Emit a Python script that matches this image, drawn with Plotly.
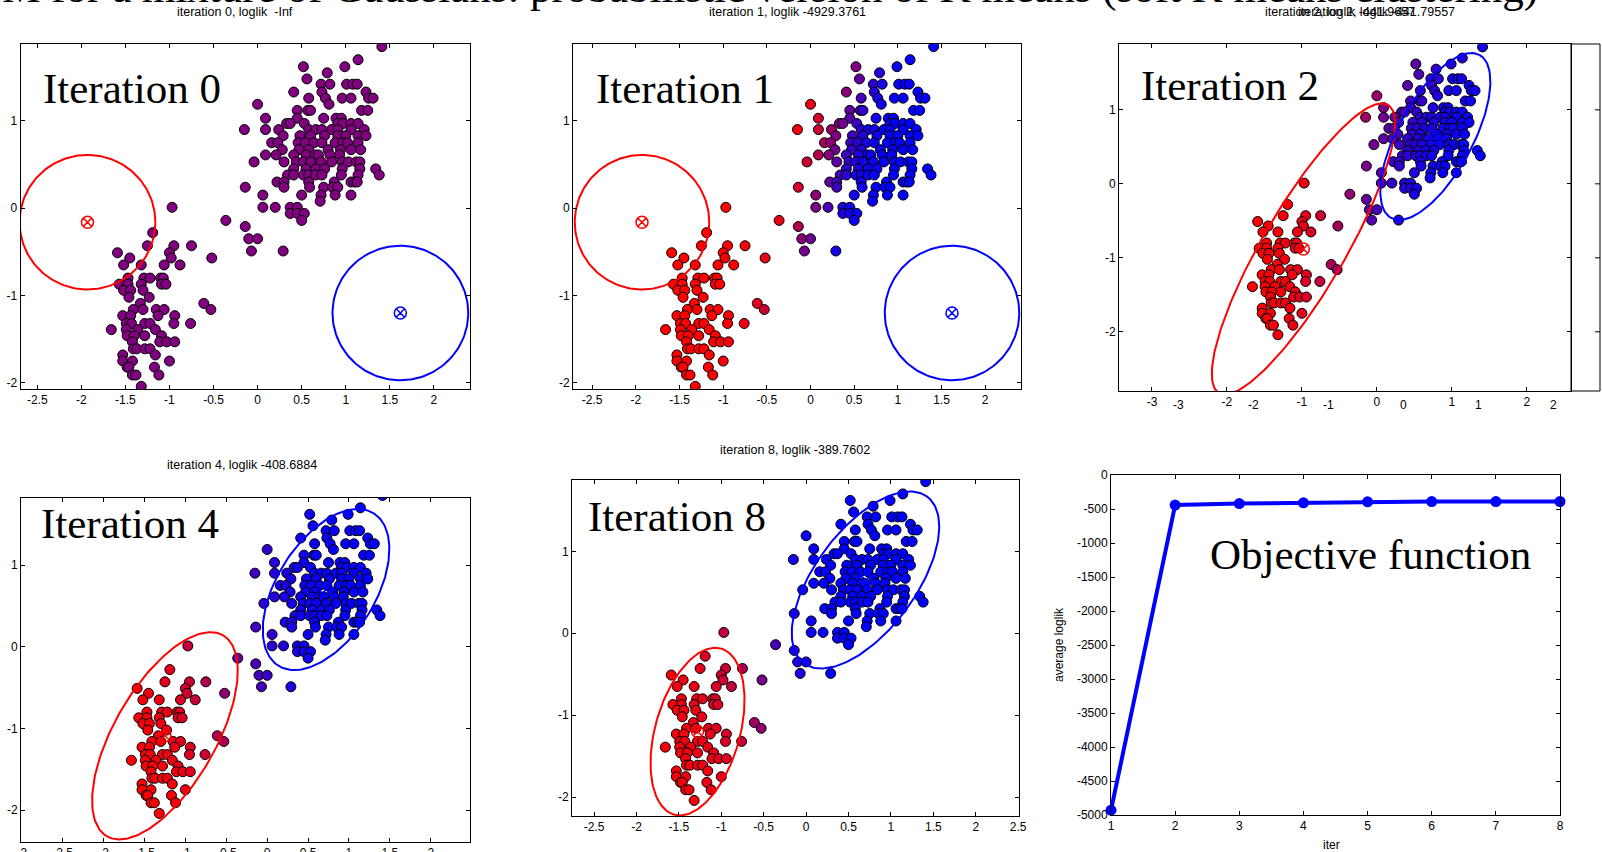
import numpy as np
import plotly.graph_objects as go

W, H = 1602, 852

# ---------------- data: standardised points ----------------
upper_x = [1.41,
           1.14,
           0.52, 0.99,
           0.79,
           0.56,
           0.72, 0.82, 1.01, 1.08, 1.13,
           0.41, 0.73, 1.23,
           0.58, 0.77, 0.96, 1.06, 1.26, 1.31,
           0.00, 0.81,
           0.45, 0.57, 0.60, 1.18, 1.25,
           0.09, 0.45, 0.75, 0.89, 0.95,
           0.33, 0.37, 0.53, 0.91, 0.97, 1.06, 1.14,
           -0.15, 0.09, 0.24, 0.58, 0.66, 0.73, 0.84, 0.91, 1.06, 1.21,
           0.29, 0.48, 0.60, 0.76, 0.91, 1.00, 1.14, 1.23,
           0.16, 0.23, 0.46, 0.54, 0.64, 0.73, 0.88, 0.97, 1.02, 1.14,
           0.28, 0.47, 0.58, 0.80, 0.94, 1.06, 1.17,
           0.09, 0.21, 0.41, 0.55, 0.65, 0.69, 0.82, 0.93,
           -0.04, 0.30, 0.44, 0.52, 0.60, 0.72, 0.84, 0.96, 1.03, 1.12, 1.16,
           0.41, 0.55, 0.66, 0.76, 0.96, 1.16, 1.34,
           0.34, 0.41, 0.52, 0.58, 0.66, 0.73, 0.95, 1.14, 1.38,
           0.22, 0.30, 0.58, 0.87, 1.06, 1.10, 1.13,
           -0.14, 0.30, 0.59, 0.75, 0.85, 0.91,
           0.06, 0.50, 0.72, 0.88, 1.06,
           0.71,
           0.06, 0.20, 0.37, 0.45,
           0.37, 0.45, 0.53,
           0.50,
           -0.36, -0.14, -0.10, 0.00, -0.07, 0.29]
upper_y = [1.85,
           1.70,
           1.62, 1.62,
           1.55,
           1.48,
           1.42, 1.42, 1.42, 1.42, 1.42,
           1.33, 1.33, 1.33,
           1.26, 1.26, 1.26, 1.26, 1.26, 1.26,
           1.19, 1.19,
           1.12, 1.12, 1.12, 1.12, 1.12,
           1.03, 1.03, 1.03, 1.03, 1.03,
           0.97, 0.97, 0.97, 0.97, 0.97, 0.97, 0.97,
           0.90, 0.90, 0.90, 0.90, 0.90, 0.90, 0.90, 0.90, 0.90, 0.90,
           0.83, 0.83, 0.83, 0.83, 0.83, 0.83, 0.83, 0.83,
           0.75, 0.75, 0.75, 0.75, 0.75, 0.75, 0.75, 0.75, 0.75, 0.75,
           0.67, 0.67, 0.67, 0.67, 0.67, 0.67, 0.67,
           0.61, 0.61, 0.61, 0.61, 0.61, 0.61, 0.61, 0.61,
           0.53, 0.53, 0.53, 0.53, 0.53, 0.53, 0.53, 0.53, 0.53, 0.53, 0.53,
           0.45, 0.45, 0.45, 0.45, 0.45, 0.45, 0.45,
           0.38, 0.38, 0.38, 0.38, 0.38, 0.38, 0.38, 0.38, 0.38,
           0.30, 0.30, 0.30, 0.30, 0.30, 0.30, 0.30,
           0.24, 0.24, 0.24, 0.24, 0.24, 0.24,
           0.15, 0.15, 0.15, 0.15, 0.15,
           0.08,
           0.01, 0.01, 0.01, 0.01,
           -0.06, -0.06, -0.06,
           -0.14,
           -0.14, -0.21, -0.35, -0.35, -0.49, -0.49]

lower_x = [-0.97,
           -1.19,
           -1.25, -0.95, -0.75,
           -1.59, -1.00,
           -1.45, -0.98, -0.52,
           -1.52, -1.32, -1.06, -0.88,
           -1.47, -1.29, -1.22, -1.10, -1.07,
           -1.57, -1.47, -1.32, -1.09, -1.04,
           -1.52, -1.44, -1.30,
           -1.46, -1.23,
           -0.61, -1.33,
           -0.53, -1.41, -1.30, -1.15, -1.06,
           -1.53, -1.44, -1.13, -0.94,
           -1.49, -1.43, -1.28, -1.22, -0.95, -0.76,
           -1.66, -1.49, -1.36, -1.16,
           -1.48, -1.40, -1.28, -1.09,
           -1.42, -1.11, -1.03, -0.94,
           -1.41, -1.37, -1.28, -1.22,
           -1.53, -1.16,
           -1.53, -1.42, -1.00,
           -1.48, -1.46, -1.17,
           -1.42, -1.38, -1.12,
           -1.32]
lower_y = [0.01,
           -0.28,
           -0.43, -0.43, -0.43,
           -0.51, -0.51,
           -0.57, -0.57, -0.57,
           -0.65, -0.65, -0.65, -0.65,
           -0.80, -0.80, -0.80, -0.80, -0.80,
           -0.87, -0.87, -0.87, -0.87, -0.87,
           -0.94, -0.94, -0.94,
           -1.02, -1.02,
           -1.09, -1.09,
           -1.16, -1.16, -1.16, -1.16, -1.16,
           -1.23, -1.23, -1.23, -1.23,
           -1.32, -1.32, -1.32, -1.32, -1.32, -1.32,
           -1.39, -1.39, -1.39, -1.39,
           -1.46, -1.46, -1.46, -1.46,
           -1.53, -1.53, -1.53, -1.53,
           -1.61, -1.61, -1.61, -1.61,
           -1.68, -1.68,
           -1.75, -1.75, -1.75,
           -1.82, -1.82, -1.82,
           -1.91, -1.91, -1.91,
           -2.04]

# Gaussian components shown in each panel: (cx, cy, semi-axis a, semi-axis b, angle deg, weight)
red_params = {
    "it0": (-1.93, -0.16, 0.77, 0.77, 0, 0.5),
    "it1": (-1.93, -0.16, 0.77, 0.77, 0, 0.5),
    "it2": (-0.98, -0.88, 2.25, 0.55, 60, 0.45),
    "it4": (-1.25, -1.09, 1.42, 0.62, 60, 0.36),
    "it8": (-1.28, -1.20, 1.05, 0.50, 75, 0.36),
}
blue_params = {
    "it0": (1.62, -1.20, 0.77, 0.77, 0, 0.5),
    "it1": (1.62, -1.20, 0.77, 0.77, 0, 0.5),
    "it2": (0.78, 0.64, 1.25, 0.50, 62, 0.55),
    "it4": (0.72, 0.70, 1.10, 0.60, 58, 0.64),
    "it8": (0.70, 0.65, 1.25, 0.60, 55, 0.64),
}

titles = {
    "it0": "iteration 0, loglik  -Inf",
    "it1": "iteration 1, loglik -4929.3761",
    "it4": "iteration 4, loglik -408.6884",
    "it8": "iteration 8, loglik -389.7602",
}
title_it2_a = "iteration 2, loglik -441.9657"
title_it2_b = "iteration 2, loglik -441.79557"

iters = [1, 2, 3, 4, 5, 6, 7, 8]
avg_loglik = [-4929.3761, -441.9657, -420.5, -408.6884, -395.2, -391.5, -390.3, -389.7602]

xt_a = [-2.5, -2, -1.5, -1, -0.5, 0, 0.5, 1, 1.5, 2]
xt_it2 = [-3, -2, -1, 0, 1, 2]
xt_it4 = [-3, -2.5, -2, -1.5, -1, -0.5, 0, 0.5, 1, 1.5, 2]
xt_it8 = [-2.5, -2, -1.5, -1, -0.5, 0, 0.5, 1, 1.5, 2, 2.5]
yt_scatter = [-2, -1, 0, 1]
yt_obj = [0, -500, -1000, -1500, -2000, -2500, -3000, -3500, -4000, -4500, -5000]

big_title = "EM for a mixture of Gaussians: probabilistic version of K means (soft K means clustering)"

# ---------------- helpers ----------------
px_all = np.array(upper_x + lower_x)
py_all = np.array(upper_y + lower_y)


def fmt(v):
    return ("%g" % v)


def ellipse(p, n=181):
    cx, cy, a, b, ang, _ = p
    t = np.linspace(0, 2 * np.pi, n)
    th = np.deg2rad(ang)
    ex = cx + a * np.cos(t) * np.cos(th) - b * np.sin(t) * np.sin(th)
    ey = cy + a * np.cos(t) * np.sin(th) + b * np.sin(t) * np.cos(th)
    return ex, ey


def logdens(p):
    cx, cy, a, b, ang, w = p
    th = np.deg2rad(ang)
    dx, dy = px_all - cx, py_all - cy
    u = (dx * np.cos(th) + dy * np.sin(th)) / a
    v = (-dx * np.sin(th) + dy * np.cos(th)) / b
    return np.log(w) - np.log(a * b) - 0.5 * (u * u + v * v)


def colours(key):
    lr = logdens(red_params[key])
    lb = logdens(blue_params[key])
    r = 1.0 / (1.0 + np.exp(np.clip(lb - lr, -50, 50)))
    return ["rgb(%d,0,%d)" % (round(255 * ri), round(255 * (1 - ri))) for ri in r]


def dom_x(a, b):
    return [a / W, b / W]


def dom_y(top, bottom):
    return [1 - bottom / H, 1 - top / H]


TICKFONT = dict(family="Liberation Sans, Arial", size=12, color="black")


def axis(domain, rng, vals, anchor, texts=None):
    return dict(domain=domain, range=rng, tickvals=vals,
                ticktext=texts if texts is not None else [fmt(v) for v in vals],
                ticks="inside", ticklen=4, tickwidth=1, tickcolor="black",
                showline=True, linecolor="black", linewidth=1, mirror="ticks",
                showgrid=False, zeroline=False, tickfont=TICKFONT, automargin=False,
                anchor=anchor, fixedrange=True)


fig = go.Figure()

panels = [
    # key, axis suffix, x domain px, y domain px, x range, y range, xticks
    ("it0", "", (20.5, 470), (44, 389), [-2.69, 2.41], [-2.07, 1.88], xt_a),
    ("it1", "2", (573, 1021), (44, 389), [-2.72, 2.41], [-2.07, 1.88], xt_a),
    ("it2", "3", (1119, 1571), (44, 391), [-3.44, 2.59], [-2.80, 1.89], xt_it2),
    ("it4", "4", (21, 470), (498, 842), [-3.01, 2.48], [-2.39, 1.82], xt_it4),
    ("it8", "5", (572, 1019), (480, 816), [-2.76, 2.51], [-2.23, 1.87], xt_it8),
]

layout_axes = {}
for key, sfx, xd, yd, xr, yr, xt in panels:
    xa, ya = "x" + sfx, "y" + sfx
    layout_axes["xaxis" + sfx] = axis(dom_x(*xd), xr, xt, ya)
    layout_axes["yaxis" + sfx] = axis(dom_y(*yd), yr, yt_scatter, xa)
    if key == "it0":
        cols = ["#800080"] * len(px_all)
    else:
        cols = colours(key)
    fig.add_trace(go.Scatter(x=px_all, y=py_all, mode="markers", xaxis=xa, yaxis=ya,
                             marker=dict(size=10, color=cols, line=dict(color="black", width=1)),
                             showlegend=False, hoverinfo="skip"))
    for p, c in ((red_params[key], "#FF0000"), (blue_params[key], "#0000FF")):
        ex, ey = ellipse(p)
        fig.add_trace(go.Scatter(x=ex, y=ey, mode="lines", xaxis=xa, yaxis=ya,
                                 line=dict(color=c, width=2), showlegend=False, hoverinfo="skip"))
        fig.add_trace(go.Scatter(x=[p[0]], y=[p[1]], mode="markers", xaxis=xa, yaxis=ya,
                                 marker=dict(symbol="circle-x-open", size=12, color=c,
                                             line=dict(color=c, width=1.5)),
                                 showlegend=False, hoverinfo="skip"))

# objective function panel
layout_axes["xaxis6"] = axis(dom_x(1111, 1560), [1, 8], iters, "y6")
layout_axes["yaxis6"] = axis(dom_y(475, 815), [-5000, 0], yt_obj, "x6")
fig.add_trace(go.Scatter(x=iters, y=avg_loglik, mode="lines+markers", xaxis="x6", yaxis="y6",
                         line=dict(color="#0000FF", width=4),
                         marker=dict(size=11, color="#0000FF"),
                         cliponaxis=False, showlegend=False, hoverinfo="skip"))

ann = []


def txt(x, y, s, size=12.5, family="Liberation Sans, Arial", xanchor="center", yanchor="middle", angle=0):
    ann.append(dict(x=x / W, y=1 - y / H, xref="paper", yref="paper", text=s, showarrow=False,
                    xanchor=xanchor, yanchor=yanchor, textangle=angle,
                    font=dict(family=family, size=size, color="black")))


# cut-off slide title (drawn first so the small titles sit on top)
txt(757, -12, big_title, size=43, family="Liberation Serif, Times New Roman")

# small panel titles
txt(235, 12, titles["it0"])
txt(787, 12, titles["it1"])
txt(1263, 12, title_it2_a, xanchor="left")
txt(1296, 12, title_it2_b, xanchor="left")
txt(242, 465, titles["it4"])
txt(795, 450, titles["it8"])

# duplicate tick labels of the overlapping axes in iteration-2 panel
for v in xt_it2:
    ann.append(dict(x=v + 0.36, y=1 - 405 / H, xref="x3", yref="paper", text=fmt(v), showarrow=False,
                    xanchor="center", yanchor="middle", font=TICKFONT))

# big labels
SERIF = "Liberation Serif, Times New Roman"
txt(41, 88, "Iteration 0", size=43, family=SERIF, xanchor="left")
txt(594, 88, "Iteration 1", size=43, family=SERIF, xanchor="left")
txt(1139, 85, "Iteration 2", size=43, family=SERIF, xanchor="left")
txt(39, 523, "Iteration 4", size=43, family=SERIF, xanchor="left")
txt(586, 516, "Iteration 8", size=43, family=SERIF, xanchor="left")
txt(1208, 554, "Objective function", size=43, family=SERIF, xanchor="left")

# axis titles of objective panel
txt(1331, 845, "iter", size=12)
txt(1059, 645, "average loglik", size=12, angle=-90)

# partly hidden neighbouring axes box on the right
shapes = [dict(type="rect", xref="paper", yref="paper", x0=1571 / W, x1=1600 / W,
               y0=1 - 391 / H, y1=1 - 44 / H, line=dict(color="black", width=1))]
for v in yt_scatter:
    shapes.append(dict(type="line", xref="paper", yref="y3", x0=1595 / W, x1=1600 / W, y0=v, y1=v,
                       line=dict(color="black", width=1)))

fig.update_layout(width=W, height=H, margin=dict(l=0, r=0, t=0, b=0),
                  paper_bgcolor="white", plot_bgcolor="white",
                  annotations=ann, shapes=shapes, **layout_axes)

fig.write_html("out.html")
